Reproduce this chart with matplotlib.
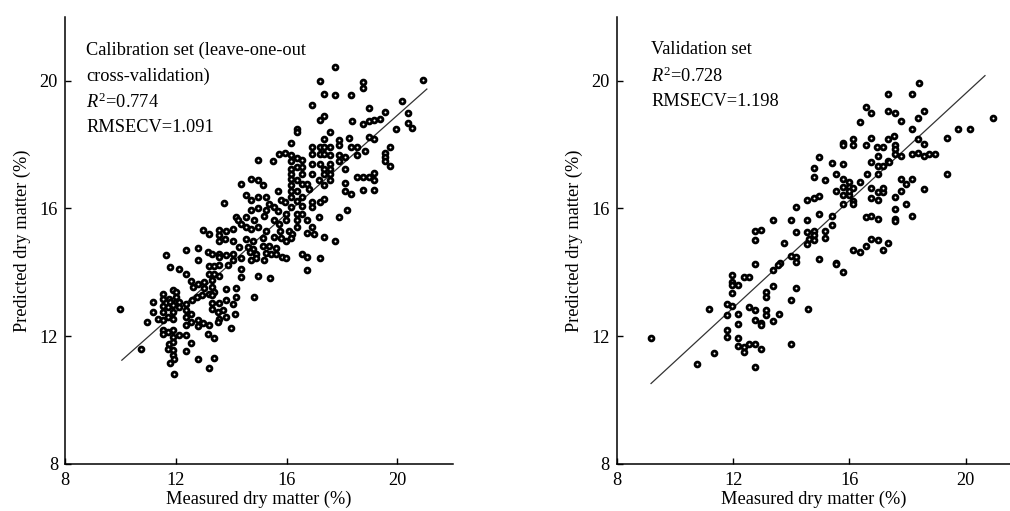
import matplotlib
matplotlib.use("Agg")
import matplotlib.pyplot as plt
import numpy as np

plt.rcParams['font.family'] = ['Liberation Serif', 'DejaVu Serif']
plt.rcParams['mathtext.fontset'] = 'custom'
plt.rcParams['mathtext.rm'] = 'Liberation Serif'
plt.rcParams['mathtext.it'] = 'Liberation Serif:italic'

# ---------------- data ----------------
cal_pts = [
 (17.76,20.42),(20.93,20.02),(17.19,19.98),(18.74,19.97),(18.74,19.77),(17.34,19.58),(17.76,19.55),
 (18.34,19.55),(16.92,19.24),(20.16,19.35),(18.97,19.15),(17.34,18.89),(17.19,18.78),(20.37,19.0),
 (19.56,19.01),(18.36,18.73),(18.74,18.63),(18.97,18.73),(19.17,18.77),(19.38,18.8),(20.37,18.67),
 (20.51,18.52),(19.95,18.49),(16.36,18.49),(16.36,18.41),(17.58,18.39),(17.34,18.18),(17.9,18.15),
 (18.24,18.21),(16.17,18.05),(17.9,18.0),(18.97,18.25),(19.17,18.18),(16.92,17.92),(17.19,17.92),
 (17.34,17.92),(17.58,17.92),(18.34,17.94),(18.54,17.92),(19.74,17.92),(15.94,17.74),(16.92,17.71),
 (17.19,17.71),(17.34,17.71),(17.58,17.69),(17.9,17.69),(18.12,17.6),(18.54,17.69),(18.84,17.79),
 (19.56,17.73),(19.56,17.6),(15.72,17.71),(15.51,17.5),(16.17,17.69),(16.17,17.48),(16.36,17.58),
 (16.56,17.52),(14.97,17.52),(16.92,17.4),(17.19,17.38),(17.58,17.4),(17.9,17.5),(18.12,17.24),
 (19.56,17.5),(19.74,17.34),(16.17,17.24),(16.36,17.29),(16.56,17.29),(17.34,17.24),(17.58,17.24),
 (19.17,17.1),(16.92,17.08),(17.34,17.08),(17.58,17.08),(16.17,17.08),(16.56,17.08),(18.54,16.98),
 (18.74,16.98),(18.97,16.98),(19.17,16.88),(14.71,16.91),(14.35,16.77),(14.97,16.88),(15.16,16.72),
 (16.17,16.93),(16.36,16.88),(17.16,16.88),(17.58,16.88),(16.17,16.75),(16.56,16.77),(16.74,16.77),
 (17.34,16.72),(18.12,16.79),(16.17,16.56),(16.36,16.54),(16.8,16.61),(18.74,16.58),(19.17,16.58),
 (18.34,16.44),(18.12,16.54),(14.55,16.41),(14.71,16.27),(14.97,16.35),(15.25,16.35),(15.7,16.56),
 (15.78,16.27),(15.94,16.2),(16.17,16.35),(16.36,16.25),(16.56,16.35),(16.92,16.2),(17.19,16.2),
 (17.34,16.3),(13.75,16.17),(15.37,16.15),(15.54,16.04),(16.17,16.04),(16.56,16.09),(16.92,16.04),
 (18.18,15.96),(14.97,16.0),(15.25,15.96),(15.7,15.92),(15.99,15.83),(16.36,15.83),(16.56,15.83),
 (17.16,15.73),(17.9,15.73),(14.71,15.94),(14.53,15.73),(14.83,15.63),(15.19,15.75),(15.54,15.63),
 (15.96,15.63),(16.36,15.63),(16.74,15.63),(14.17,15.73),(14.23,15.63),(14.35,15.52),(14.05,15.36),
 (13.57,15.33),(12.97,15.33),(13.19,15.19),(13.57,15.16),(13.81,15.31),(14.53,15.42),(14.71,15.36),
 (14.97,15.42),(15.25,15.31),(15.72,15.52),(16.36,15.42),(16.92,15.42),(16.74,15.23),(16.98,15.21),
 (15.75,15.31),(16.08,15.31),(16.2,15.21),(17.34,15.1),(17.76,14.98),(13.57,14.98),(13.78,15.05),
 (14.05,14.98),(14.53,15.05),(14.77,14.98),(15.13,15.08),(15.54,15.1),(15.78,15.08),(16.14,15.08),
 (15.96,14.98),(14.29,14.79),(14.59,14.79),(14.77,14.74),(15.13,14.81),(15.37,14.84),(15.6,14.77),
 (12.37,14.71),(12.79,14.77),(13.15,14.64),(13.32,14.58),(13.57,14.58),(13.81,14.53),(14.05,14.58),
 (14.67,14.64),(14.89,14.58),(15.25,14.6),(15.43,14.58),(15.6,14.58),(15.82,14.48),(15.99,14.46),
 (16.56,14.58),(16.74,14.48),(17.19,14.46),(11.65,14.53),(13.57,14.48),(14.05,14.38),(14.35,14.46),
 (14.71,14.4),(14.89,14.46),(15.19,14.38),(12.79,14.4),(11.8,14.17),(12.13,14.11),(13.19,14.19),
 (13.37,14.19),(13.57,14.22),(13.87,14.22),(14.35,14.11),(13.57,13.9),(13.21,13.94),(13.37,13.94),
 (14.35,13.85),(14.97,13.9),(15.39,13.83),(16.74,14.06),(12.37,13.94),(12.55,13.73),(12.79,13.63),
 (13.03,13.7),(13.32,13.75),(13.32,13.54),(12.61,13.54),(13.03,13.52),(14.17,13.52),(13.81,13.49),
 (13.37,13.39),(13.19,13.33),(12.95,13.28),(12.77,13.23),(12.59,13.13),(13.32,13.28),(14.17,13.23),
 (14.83,13.23),(11.53,13.33),(11.89,13.44),(12.01,13.39),(11.53,13.18),(11.77,13.18),(12.0,13.23),
 (11.17,13.07),(11.8,13.07),(12.01,13.07),(12.13,13.07),(12.37,13.02),(13.32,13.04),(13.57,13.04),
 (13.81,13.13),(14.05,13.02),(11.53,12.94),(11.71,12.92),(11.89,12.97),(12.13,12.92),(13.32,12.86),
 (10.0,12.86),(11.17,12.76),(11.53,12.76),(11.89,12.76),(12.37,12.81),(12.55,12.71),(13.51,12.76),
 (13.69,12.81),(14.13,12.71),(10.97,12.45),(11.35,12.55),(11.53,12.5),(11.71,12.6),(11.89,12.55),
 (12.37,12.6),(13.57,12.55),(13.81,12.6),(12.55,12.45),(12.79,12.5),(12.97,12.4),(13.21,12.34),
 (13.51,12.45),(12.37,12.34),(12.79,12.31),(13.99,12.27),(11.53,12.19),(11.71,12.14),(11.89,12.19),
 (11.53,12.08),(12.13,12.03),(12.37,12.03),(11.89,11.98),(13.15,12.08),(13.37,11.96),(11.77,11.77),
 (11.89,11.82),(12.55,11.79),(10.75,11.61),(11.71,11.61),(11.89,11.56),(12.37,11.54),(11.89,11.41),
 (11.95,11.3),(12.79,11.3),(13.37,11.33),(11.8,11.15),(13.19,10.99),(11.95,10.83),
]
cal_measured = [p[0] for p in cal_pts]
cal_predicted = [p[1] for p in cal_pts]

val_pts = [
 (18.38,19.92),(17.34,19.6),(18.16,19.6),(16.57,19.19),(16.75,18.98),(17.34,19.06),(17.56,18.98),
 (18.56,19.06),(16.37,18.71),(17.77,18.75),(18.36,18.82),(20.92,18.82),(18.16,18.48),(19.74,18.48),
 (20.14,18.48),(19.36,18.2),(15.77,18.04),(15.77,18.0),(16.13,18.18),(16.13,18.0),(16.57,17.98),
 (16.75,18.21),(16.96,17.94),(17.16,17.94),(17.34,18.18),(17.54,18.28),(17.56,17.98),(17.56,17.86),
 (18.36,18.18),(18.56,18.02),(16.97,17.64),(17.34,17.5),(17.56,17.7),(17.77,17.64),(18.16,17.7),
 (18.36,17.74),(18.56,17.64),(18.73,17.7),(18.94,17.7),(14.96,17.6),(15.39,17.43),(15.77,17.4),
 (16.75,17.47),(16.97,17.32),(17.16,17.32),(17.37,17.47),(14.78,17.27),(14.78,17.0),(15.55,17.08),
 (16.59,17.08),(16.97,17.08),(19.36,17.08),(15.17,16.88),(15.77,16.93),(15.99,16.82),(16.37,16.84),
 (17.77,16.93),(18.16,16.93),(17.94,16.77),(15.55,16.54),(15.77,16.67),(15.99,16.67),(16.13,16.64),
 (16.75,16.65),(16.75,16.33),(16.97,16.51),(17.16,16.51),(17.16,16.64),(16.97,16.27),(17.56,16.35),
 (17.77,16.54),(18.56,16.61),(15.77,16.42),(15.99,16.42),(16.13,16.25),(15.99,16.54),(15.77,16.13),
 (16.13,16.13),(17.94,16.13),(14.55,16.27),(14.78,16.33),(14.96,16.38),(14.17,16.06),(17.56,15.98),
 (16.57,15.73),(16.75,15.75),(16.97,15.68),(17.56,15.68),(17.56,15.6),(18.16,15.75),(13.36,15.65),
 (13.98,15.65),(14.55,15.65),(14.96,15.83),(15.39,15.75),(15.39,15.47),(15.17,15.29),(15.17,15.08),
 (12.97,15.33),(12.75,15.29),(12.75,15.02),(14.17,15.26),(14.55,15.26),(14.78,15.31),(14.78,15.16),
 (14.62,15.05),(14.78,15.0),(14.55,14.9),(13.76,14.92),(16.75,15.05),(16.97,15.02),(16.57,14.84),
 (17.34,14.93),(16.13,14.71),(16.37,14.64),(17.16,14.71),(13.98,14.51),(14.17,14.48),(14.96,14.43),
 (14.17,14.31),(13.6,14.29),(13.53,14.22),(12.75,14.27),(15.55,14.29),(15.55,14.26),(13.36,14.08),
 (15.77,14.01),(11.97,13.93),(11.97,13.7),(11.97,13.61),(12.18,13.61),(12.38,13.87),(12.56,13.85),
 (13.36,13.56),(14.17,13.51),(11.97,13.35),(13.14,13.39),(13.14,13.23),(13.98,13.15),(11.8,13.0),
 (11.97,12.94),(11.18,12.86),(12.56,12.92),(12.75,12.83),(14.56,12.86),(11.8,12.68),(12.18,12.71),
 (13.14,12.83),(13.14,12.66),(13.58,12.71),(12.75,12.52),(12.97,12.42),(12.97,12.34),(13.36,12.48),
 (12.18,12.38),(11.8,12.19),(11.8,11.98),(12.18,11.95),(12.18,11.7),(12.38,11.67),(12.56,11.77),
 (12.75,11.77),(12.38,11.51),(12.97,11.59),(13.98,11.75),(9.18,11.95),(11.34,11.48),(10.76,11.13),
 (12.75,11.04),
]
val_measured = [p[0] for p in val_pts]
val_predicted = [p[1] for p in val_pts]

cal_line_x = [10.05, 21.06]
cal_line_y = [11.25, 19.74]
val_line_x = [9.18, 20.66]
val_line_y = [10.52, 20.16]

ticks = [8, 12, 16, 20]
cal_text = ["Calibration set (leave-one-out", "cross-validation)", r"$R^{2}$=0.774", "RMSECV=1.091"]
val_text = ["Validation set", r"$R^{2}$=0.728", "RMSECV=1.198"]
xlabel = "Measured dry matter (%)"
ylabel = "Predicted dry matter (%)"

# ---------------- figure ----------------
fig = plt.figure(figsize=(10.1, 5.11), dpi=100)
ax1 = fig.add_axes([0.0644, 0.092, 0.384, 0.875])
ax2 = fig.add_axes([0.6106, 0.092, 0.3894, 0.875])

FS = 13.2

def style(ax, xmax):
    ax.set_xlim(8, xmax)
    ax.set_ylim(8, 22)
    ax.set_xticks(ticks)
    ax.set_yticks(ticks)
    for s in ['top', 'right']:
        ax.spines[s].set_visible(False)
    for s in ['left', 'bottom']:
        ax.spines[s].set_linewidth(1.1)
    ax.tick_params(direction='in', length=4, width=1.0, labelsize=FS)
    ax.tick_params(axis='x', pad=6)
    ax.tick_params(axis='y', pad=5)
    ax.set_xlabel(xlabel, fontsize=FS, labelpad=1)
    ax.set_ylabel(ylabel, fontsize=FS, labelpad=6)

for ax, mx, my, lx, ly, txt, xmax in [
        (ax1, cal_measured, cal_predicted, cal_line_x, cal_line_y, cal_text, 22),
        (ax2, val_measured, val_predicted, val_line_x, val_line_y, val_text, 21.52)]:
    style(ax, xmax)
    ax.plot(lx, ly, color='#333333', lw=0.9, zorder=2)
    ax.plot(mx, my, linestyle='none', marker='o', ms=3.5, mfc='white',
            mec='black', mew=2.0, zorder=3, clip_on=False)

y0 = 0.926
dy = 26 / 447
for i, t in enumerate(cal_text):
    ax1.text(0.054, y0 - i * dy, t, transform=ax1.transAxes, fontsize=FS, va='center', ha='left')
for i, t in enumerate(val_text):
    ax2.text(0.087, y0 - i * dy, t, transform=ax2.transAxes,
             fontsize=FS, va='center', ha='left')

fig.savefig("out.png", dpi=100)
